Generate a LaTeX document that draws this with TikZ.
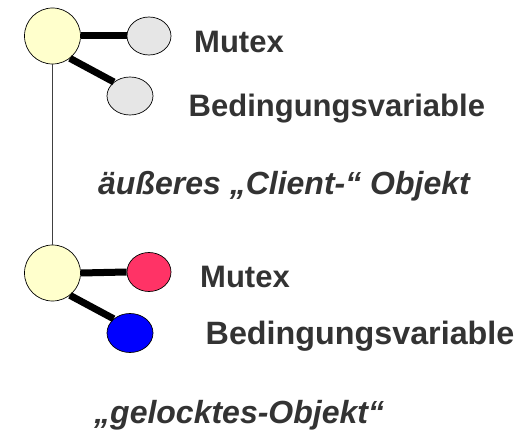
\documentclass[tikz,border=0pt]{standalone}
\usepackage{fontspec}
\setmainfont{Liberation Sans}
\usetikzlibrary{shapes.geometric}
\definecolor{textgray}{HTML}{333333}
\definecolor{paleyellow}{HTML}{FFFFCC}
\definecolor{lightgray}{HTML}{E6E6E6}
\definecolor{lockred}{HTML}{FF3366}
\definecolor{lockblue}{HTML}{0000FF}
\begin{document}
\begin{tikzpicture}[x=1pt,y=1pt,
  objcircle/.style={circle,draw=black,line width=0.7pt,fill=paleyellow,minimum size=56pt,inner sep=0pt},
  member/.style={ellipse,draw=black,line width=0.7pt,minimum width=44pt,minimum height=38pt,inner sep=0pt},
  link/.style={line width=7pt},
  stem/.style={line width=0.8pt,draw=black!75},
  label/.style={anchor=base west,inner sep=0pt,text=textgray,font=\fontsize{31}{36}\selectfont\bfseries},
  biglabel/.style={label,font=\fontsize{32.3}{38}\selectfont\bfseries},
  caption/.style={label,font=\fontsize{32}{38}\selectfont\bfseries\itshape}]
\useasboundingbox (0,0) rectangle (531,432);

% outer client object
\node[objcircle] (outer) at (52.5,396) {};
\node[member,fill=lightgray] (mutexA) at (149,396) {};
\node[member,fill=lightgray,minimum width=46pt] (condA) at (130,336) {};

% locked object
\node[objcircle] (inner) at (52.5,159) {};
\node[member,fill=lockred,minimum height=39pt] (mutexB) at (149,160) {};
\node[member,fill=lockblue,minimum width=46pt,minimum height=39pt] (condB) at (130,99) {};

% connectors
\draw[stem] (outer.south) -- (inner.north);
\draw[link] (outer.east) -- (mutexA.west);
\draw[link] (outer.-52) -- (condA.139);
\draw[link] (inner.east) -- (mutexB.west);
\draw[link] (inner.-52) -- (condB.139);

% labels
\node[label] (tmA) at (194,379) {Mutex};
\node[label] (tcA) at (188.5,315.5) {Bedingungsvariable};
\node[caption] (tOuter) at (98,237) {äußeres „Client-“ Objekt};
\node[label] (tmB) at (200,144) {Mutex};
\node[biglabel] (tcB) at (205.5,88) {Bedingungsvariable};
\node[caption] (tInner) at (94,9) {„gelocktes-Objekt“};
\end{tikzpicture}
\end{document}
